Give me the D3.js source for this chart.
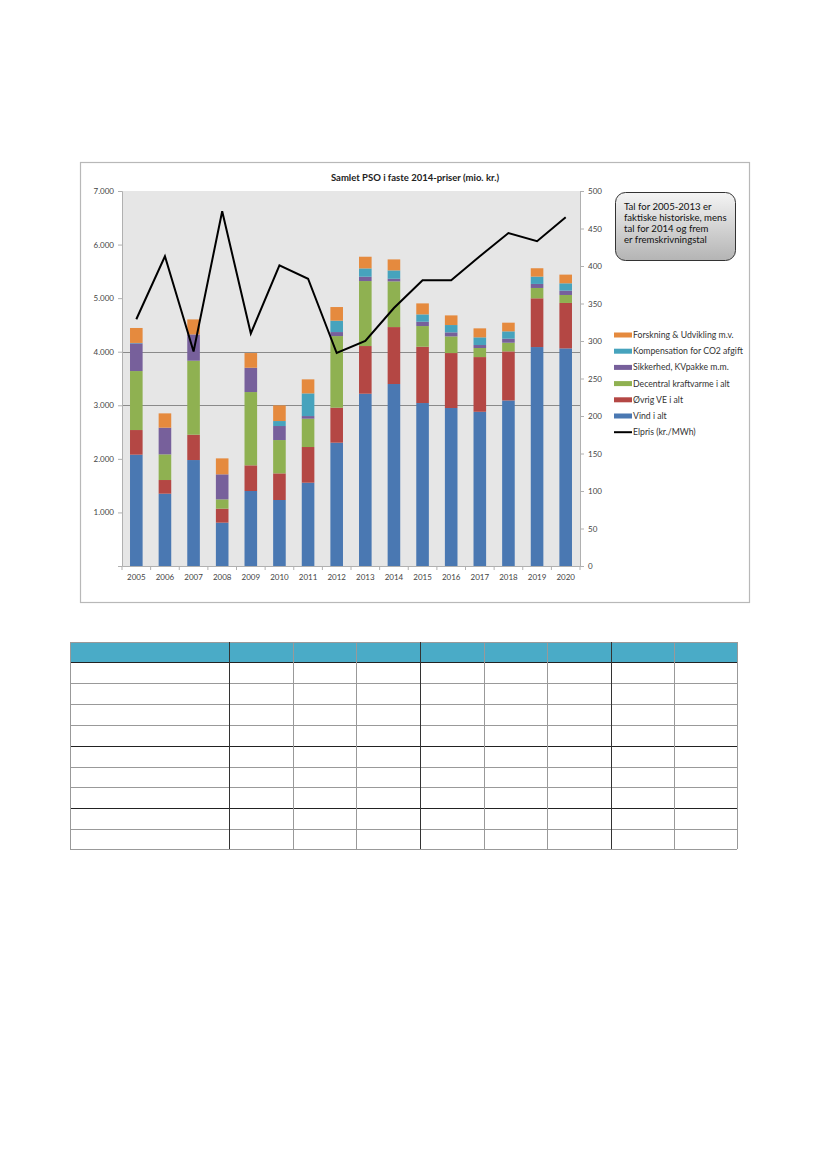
<!DOCTYPE html>
<html><head><meta charset="utf-8">
<script src="https://cdn.jsdelivr.net/npm/d3@7"></script>
<style>body{margin:0;background:#fff;}svg{display:block;font-family:Lato,"Open Sans",sans-serif;}</style>
</head><body><svg id="c" width="827" height="1169"></svg>
<script>
const years = ["2005","2006","2007","2008","2009","2010","2011","2012","2013","2014","2015","2016","2017","2018","2019","2020"];
const vind      = [2078,1350,1978, 809,1400,1232,1555,2302,3216,3397,3042,2949,2879,3090,4087,4062];
const ovrigVE   = [ 460, 255, 473, 261, 479, 497, 666, 653, 890,1063,1051,1026,1021, 916, 910, 848];
const decentral = [1101, 479,1381, 174,1368, 622, 529,1337,1213, 853, 386, 311, 169, 162, 193, 149];
const sikkerhed = [ 517, 498, 491, 467, 454, 262,  49,  75,  81,  49,  81,  75,  56,  75,  75,  81];
const kompens   = [   8,   0,   0,   0,   0,  93, 423, 212, 155, 156, 137, 137, 143, 137, 137, 137];
const forskning = [ 279, 267, 280, 298, 274, 292, 262, 255, 218, 205, 205, 180, 168, 162, 156, 162];
const elpris    = [ 329, 413, 286, 473, 310, 401, 383, 284, 300, 344, 381, 381, 413, 444, 433, 465];
const leftTicks = [0,1000,2000,3000,4000,5000,6000,7000];
const rightTicks = [0,50,100,150,200,250,300,350,400,450,500];
const seriesNames = ["Vind i alt","Øvrig VE i alt","Decentral kraftvarme i alt","Sikkerhed, KVpakke m.m.","Kompensation for CO2 afgift","Forskning & Udvikling m.v."];
const seriesColors = ["#4a78b2","#b44744","#8fb151","#77609b","#46a3bd","#e58a3e"];
const lineName = "Elpris (kr./MWh)";
const calloutLines = ["Tal for 2005-2013 er","faktiske historiske, mens","tal for 2014 og frem","er fremskrivningstal"];
const title = "Samlet PSO i faste 2014-priser (mio. kr.)";

const svg = d3.select("#c");
svg.append("rect").attr("x",80.5).attr("y",162.5).attr("width",669).attr("height",440)
  .attr("fill","#fff").attr("stroke","#b8b8b8").attr("stroke-width",1.2);

const L=122, R=580, T=191, B=566;
const x = d3.scaleBand().domain(years).range([L,R]).paddingInner(0.56).paddingOuter(0.28);
const y = d3.scaleLinear().domain([0,7000]).range([B,T]);
const y2 = d3.scaleLinear().domain([0,500]).range([B,T]);

svg.append("rect").attr("x",L).attr("y",T).attr("width",R-L).attr("height",B-T).attr("fill","#e6e6e6");
svg.append("g").selectAll("line").data([3000,4000]).join("line")
  .attr("x1",L).attr("x2",R).attr("y1",d=>Math.round(y(d))+0.5).attr("y2",d=>Math.round(y(d))+0.5)
  .attr("stroke","#8a8a8a").attr("stroke-width",1);

const rows = years.map((yr,i)=>({year:yr, s0:vind[i], s1:ovrigVE[i], s2:decentral[i], s3:sikkerhed[i], s4:kompens[i], s5:forskning[i]}));
const stack = d3.stack().keys(["s0","s1","s2","s3","s4","s5"])(rows);
svg.append("g").selectAll("g").data(stack).join("g").attr("fill",(d,i)=>seriesColors[i])
  .selectAll("rect").data(d=>d).join("rect")
  .attr("x",d=>x(d.data.year)).attr("width",x.bandwidth())
  .attr("y",d=>y(d[1])).attr("height",d=>Math.max(0,y(d[0])-y(d[1])));

const gl = svg.append("g").attr("transform",`translate(${L},0)`)
  .call(d3.axisLeft(y).tickValues(leftTicks).tickSize(4).tickFormat(d=>d===0?"":d3.format(",")(d).replace(",",".")));
const gr = svg.append("g").attr("transform",`translate(${R},0)`)
  .call(d3.axisRight(y2).tickValues(rightTicks).tickSize(4));
const gx = svg.append("g").attr("transform",`translate(0,${B})`)
  .call(d3.axisBottom(x).tickSize(0).tickPadding(8));
[gl,gr,gx].forEach(g=>{
  g.selectAll("path.domain").attr("stroke","#b0b0b0");
  g.selectAll(".tick line").attr("stroke","#b0b0b0");
  g.selectAll("text").attr("font-size",8).attr("fill","#444").attr("font-family","Lato,sans-serif");
});
gl.selectAll("text").attr("x",-8);
gr.selectAll("text").attr("x",8);
svg.append("g").selectAll("line").data(d3.range(years.length+1)).join("line")
  .attr("x1",d=>L+d*(R-L)/years.length).attr("x2",d=>L+d*(R-L)/years.length)
  .attr("y1",B).attr("y2",B+4).attr("stroke","#b0b0b0");

const line = d3.line().x((d,i)=>x(years[i])+x.bandwidth()/2).y(d=>y2(d));
svg.append("path").datum(elpris).attr("d",line).attr("fill","none").attr("stroke","#000").attr("stroke-width",2);

svg.append("text").attr("x",415).attr("y",181).attr("text-anchor","middle")
  .attr("font-size",9.5).attr("font-weight","bold").attr("fill","#222").text(title);

const defs = svg.append("defs");
const grad = defs.append("linearGradient").attr("id","cg").attr("x1",0).attr("y1",0).attr("x2",0).attr("y2",1);
grad.append("stop").attr("offset","0%").attr("stop-color","#f4f4f4");
grad.append("stop").attr("offset","100%").attr("stop-color","#b4b4b4");
svg.append("rect").attr("x",615.5).attr("y",192.5).attr("width",120).attr("height",68).attr("rx",10)
  .attr("fill","url(#cg)").attr("stroke","#333").attr("stroke-width",1);
svg.append("g").selectAll("text").data(calloutLines).join("text")
  .attr("x",624).attr("y",(d,i)=>210+i*11).attr("font-size",9.6).attr("fill","#111").text(d=>d);

const legItems = seriesNames.map((n,i)=>({n,c:seriesColors[i]})).reverse();
const lg = svg.append("g");
legItems.forEach((d,i)=>{
  const yy = 335 + i*16.2;
  lg.append("rect").attr("x",614).attr("y",yy-2.5).attr("width",18).attr("height",5).attr("fill",d.c);
  lg.append("text").attr("x",633).attr("y",yy+3).attr("font-size",8.7).attr("fill","#333").text(d.n);
});
const ly = 335 + 6*16.2;
lg.append("line").attr("x1",614).attr("x2",632).attr("y1",ly).attr("y2",ly).attr("stroke","#000").attr("stroke-width",2);
lg.append("text").attr("x",633).attr("y",ly+3).attr("font-size",8.7).attr("fill","#333").text(lineName);

const colX = [70,229,293,356,420,484,547,611,674,737];
const rowY = [642,662,683,704,725,746,767,787,808,829,849];
const tb = svg.append("g");
tb.append("rect").attr("x",colX[0]).attr("y",rowY[0]).attr("width",colX[9]-colX[0]).attr("height",rowY[1]-rowY[0]).attr("fill","#4aabc7");
const darkRows = new Set([5,8]);
rowY.forEach((yy,i)=>{
  tb.append("line").attr("x1",colX[0]).attr("x2",colX[9]).attr("y1",yy+0.5).attr("y2",yy+0.5)
    .attr("stroke", darkRows.has(i)||i===1 ? "#222" : "#999").attr("stroke-width",1);
});
const darkCols = new Set([1,4,7]);
colX.forEach((xx,i)=>{
  tb.append("line").attr("x1",xx+0.5).attr("x2",xx+0.5).attr("y1",rowY[0]).attr("y2",rowY[10])
    .attr("stroke", darkCols.has(i) ? "#333" : "#999").attr("stroke-width",1);
});
</script></body></html>
